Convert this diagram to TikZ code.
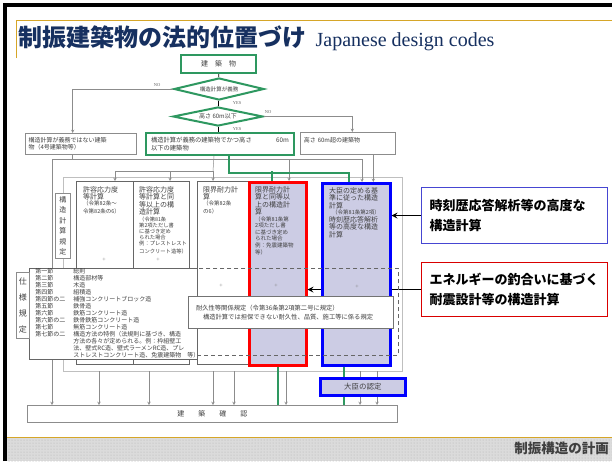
\documentclass[tikz,border=0pt]{standalone}
\usepackage{fontspec}
\setmainfont{Liberation Serif}
\newfontfamily\jp{Noto Sans CJK JP}
\usetikzlibrary{shapes.geometric,patterns,positioning}

\definecolor{codeGreen}{RGB}{46,152,96}
\definecolor{titleNavy}{RGB}{22,48,96}
\definecolor{frameGold}{RGB}{214,166,40}
\definecolor{calcFill}{RGB}{204,204,228}
\definecolor{calloutBlue}{RGB}{70,70,210}

\begin{document}
\begin{tikzpicture}[x=1pt, y=-1pt,
    flowBox/.style={rectangle, draw=black!45, fill=white, line width=0.6pt, anchor=north west, align=left, text=black!75, font=\jp\fontsize{6}{7.5}\selectfont},
    greenBox/.style={rectangle, draw=codeGreen, line width=2pt, fill=white, text=black!75, font=\jp\fontsize{6.3}{7.5}\selectfont},
    decision/.style={diamond, shape aspect=4, draw=codeGreen, line width=2pt, fill=white, inner sep=0pt, minimum width=90, text=black!75},
    calcCol/.style={rectangle, draw=black!60, line width=0.8pt, fill=white, anchor=north west, minimum height=183},
    redCol/.style={calcCol, draw=red, line width=2.5pt, fill=calcFill},
    blueCol/.style={calcCol, draw=blue, line width=2.5pt, fill=calcFill},
    colText/.style={anchor=north west, align=left, inner sep=0pt, text width=50, text=black!75, font=\jp\fontsize{7}{7.6}\selectfont},
    callout/.style={rectangle, anchor=north west, fill=white, line width=1.2pt, minimum width=185, align=left, text width=170, inner xsep=8pt, font=\jp\bfseries\fontsize{13}{20}\selectfont},
    yesno/.style={font=\fontsize{4.5}{5}\selectfont, text=black!60, inner sep=0pt},
    crossMark/.style={font=\fontsize{6}{6}\selectfont, text=black!50, inner sep=0pt},
    link/.style={draw=black!45, line width=0.5pt},
    arrow/.style={link, ->, >=stealth},
    gLink/.style={draw=codeGreen, line width=2pt},
    callArrow/.style={line width=1.6pt, ->, >=stealth}
]
\useasboundingbox (0,0) rectangle (612,461);
\fill[white] (0,0) rectangle (612,461);

% slide frame and footer
\draw[line width=3.5pt] (5,461) -- (5,5) -- (612,5);
\draw[frameGold, line width=1pt] (16,58) -- (16,20) -- (612,20);
\fill[gray!28] (7,437) rectangle (612,461);
\fill[pattern=dots, pattern color=gray!60] (7,437) rectangle (612,461);
\draw[frameGold, line width=1pt] (7,437) -- (612,437);
\node[anchor=east, inner sep=0pt, text=black!75, font=\jp\bfseries\fontsize{13.5}{13.5}\selectfont] (footer) at (609,448) {制振構造の計画};

% title
\node[anchor=base west, inner sep=0pt, text=titleNavy, font=\jp\bfseries\fontsize{24}{24}\selectfont] (title) at (18,46) {制振建築物の法的位置づけ};
\node[right=9pt of title.base east, anchor=base west, inner sep=0pt, text=titleNavy, font=\fontsize{20}{20}\selectfont] (subtitle) {Japanese design codes};

% callouts
\node[callout, draw=calloutBlue, minimum height=56] (highCallout) at (421,187) {時刻歴応答解析等の高度な\\構造計算};
\node[callout, draw=red!85!black, minimum height=54] (energyCallout) at (421,262) {エネルギーの釣合いに基づく\\耐震設計等の構造計算};

% decisions
\node[greenBox, minimum width=75, minimum height=18, font=\jp\fontsize{7}{7}\selectfont] (building) at (218.5,64) {建　築　物};
\node[decision, minimum height=22, font=\jp\fontsize{5.5}{5.5}\selectfont] (needCalc) at (219,89) {構造計算が義務};
\node[decision, minimum height=19, font=\jp\fontsize{6}{6}\selectfont] (under60) at (218,116.5) {高さ 60m以下};

\node[flowBox, minimum width=110, minimum height=21, text width=104] (optional) at (25,133) {構造計算が義務ではない建築\\物（4号建築物等）};
\node[greenBox, anchor=north west, minimum width=148, minimum height=22, align=left, text width=138] (mandatory) at (145,132) {構造計算が義務の建築物でかつ高さ\hfill 60m\\以下の建築物};
\node[flowBox, minimum width=95, minimum height=22, text width=88] (tall) at (300,132) {高さ 60m超の建築物\\~};

\node[yesno] (noA) at (157,85.5) {NO};
\node[yesno] (yesA) at (237,103) {YES};
\node[yesno] (noB) at (268,112.5) {NO};
\node[yesno] (yesB) at (237,129) {YES};

\draw[line width=0.8pt] (building) -- (needCalc);
\draw[line width=0.8pt] (needCalc) -- (under60);
\draw[line width=0.8pt] (under60.south) -- (under60.south |- mandatory.north);
\draw[arrow] (needCalc.west) -| ([xshift=-8]optional.north);
\draw[arrow] (under60.east) -| ([xshift=4.5]tall.north);

% calculation routes
\node[rectangle, draw=black!25, line width=0.8pt, anchor=north west, minimum width=339, minimum height=194] (calcFrame) at (63,177) {};
\node[flowBox, minimum width=370, minimum height=17, align=center, font=\jp\fontsize{7}{7}\selectfont] (confirm) at (27,405) {建　　築　　確　　認};

\node[calcCol, minimum width=57] (colA) at (76,181) {};
\node[calcCol, minimum width=56] (colB) at (133,181) {};
\node[calcCol, minimum width=51] (colC) at (197,181) {};
\node[redCol, minimum width=57] (redCalc) at (248,181) {};

\node[colText] (colAText) at ([shift={(7,5)}]colA.north west) {許容応力度\\等計算\par\fontsize{5.5}{6.3}\selectfont （令第82条～\\令第82条の6）};
\node[colText] (colBText) at ([shift={(6,5)}]colB.north west) {許容応力度\\等計算と同\\等以上の構\\造計算\par\fontsize{5.3}{6.2}\selectfont （令第81条\\第2項ただし書\\に基づき定め\\られた場合\\例：プレストレスト\\コンクリート造等）};
\node[colText] (colCText) at ([shift={(6,5)}]colC.north west) {限界耐力計\\算\par\fontsize{5.5}{6.3}\selectfont （令第82条\\の6）};
\node[colText] (redText) at ([shift={(7,5)}]redCalc.north west) {限界耐力計\\算と同等以\\上の構造計\\算\par\fontsize{5.5}{6.5}\selectfont （令第81条第\\2項ただし書\\に基づき定め\\られた場合\\例：免震建築物\\等）};

\draw[callArrow] (energyCallout.west) -- (energyCallout.west -| redCalc.east);

\node[blueCol, minimum width=68, minimum height=182] (blueCalc) at (321,182) {};
\node[colText, text width=60] (blueText) at ([shift={(8,5)}]blueCalc.north west) {大臣の定める基\\準に従った構造\\計算\par\fontsize{5.5}{6.5}\selectfont \hspace*{3pt}（令第81条第2項）\par\fontsize{7}{7.6}\selectfont 時刻歴応答解析\\等の高度な構造\\計算};
\draw[callArrow] (highCallout.west) -- (highCallout.west -| blueCalc.east);

\node[rectangle, draw=black!60, dash pattern=on 4pt off 3pt, line width=0.8pt, anchor=north west, minimum width=201, minimum height=87] (durZone) at (197,268) {};

% route lines
\coordinate (busW) at (52,159);
\coordinate (busE) at (362,159);
\coordinate (busR) at (289,159);
\coordinate (busA) at (115,171);
\coordinate (busB) at (170,171);
\coordinate (busC) at (213,171);
\coordinate (tallDrop) at ([xshift=25.5]tall.south);
\draw[link] ([xshift=-8]optional.south) -- ++(0,5);
\draw[link] (busW) -- (busE);
\draw[link] (busA) -- (busC);
\draw[link] ([xshift=-6]mandatory.south) -- (busC);
\draw[arrow] (busW) -- (busW |- confirm.north);
\draw[arrow] (busR) -- (busR |- redCalc.north);
\draw[arrow] (busE) -- (busE |- blueCalc.north);
\draw[arrow] (busA) -- (busA |- colA.north);
\draw[arrow] (busB) -- (busB |- colB.north);
\draw[arrow] (busC) -- (busC |- colC.north);
\draw[arrow] (tallDrop) -- (tallDrop |- blueCalc.north);
\draw[gLink] ([xshift=9]mandatory.south) -- ++(0,17) -| ([xshift=-7]blueCalc.north);
\draw[gLink] ([xshift=-6]redCalc.north) -- ++(0,-10);

\foreach \cx/\cy [count=\i] in {104/260, 158/260, 221/286, 276/286, 357/287}
    \node[crossMark] (cross\i) at (\cx,\cy) {+};

% specification rules
\node[flowBox, draw=black!60, line width=0.9pt, minimum width=168, minimum height=89, text width=156, inner xsep=6pt, inner ysep=0pt, font=\jp\fontsize{6}{6.5}\selectfont] (specList) at (29,268) {%
\begin{tabular}{@{}p{38pt}@{}l@{}}
第一節 & 総則\\
第二節 & 構造部材等\\
第三節 & 木造\\
第四節 & 組積造\\
第四節の二 & 補強コンクリートブロック造\\
第五節 & 鉄骨造\\
第六節 & 鉄筋コンクリート造\\
第六節の二 & 鉄骨鉄筋コンクリート造\\
第七節 & 無筋コンクリート造\\
第七節の二 & 構造方法の特例（法規則に基づき、構造\\
 & 方法の各々が定められる。例：枠組壁工\\
 & 法、壁式RC造、壁式ラーメンRC造、プレ\\
 & ストレストコンクリート造、免震建築物　等）
\end{tabular}};
\node[flowBox, minimum width=13, minimum height=66, align=center, inner sep=0pt, font=\jp\fontsize{8}{16}\selectfont] (specTag) at (16,272) {仕\\様\\規\\定};
\node[flowBox, minimum width=15, minimum height=65, align=center, inner sep=0pt, font=\jp\fontsize{7}{10.5}\selectfont] (calcTag) at (55,193) {構\\造\\計\\算\\規\\定};
\node[flowBox, draw=black!55, line width=1pt, minimum width=205, minimum height=32, text width=190, font=\jp\fontsize{6.3}{9}\selectfont] (durability) at (188,296) {耐久性等関係規定（令第36条第2項第二号に規定）\\\hspace*{7pt}構造計算では担保できない耐久性、品質、施工等に係る規定};

% to building confirmation
\foreach \x in {99,149,213,234,286,360,377} {
    \coordinate (drop\x) at (\x,371);
    \draw[arrow] (drop\x) -- (drop\x |- confirm.north);
}
\draw[gLink] (redCalc.south) -- (redCalc.south |- confirm.north);
\node[rectangle, draw=blue, line width=2.5pt, fill=calcFill, anchor=north west, minimum width=85, minimum height=17, font=\jp\fontsize{7.5}{7.5}\selectfont, text=black!75] (approval) at (319,377) {大臣の認定};
\coordinate (gB) at ([xshift=-12]blueCalc.south);
\draw[gLink] (gB) -- (gB |- approval.north);
\draw[gLink] (gB |- approval.south) -- (gB |- confirm.north);

\end{tikzpicture}
\end{document}
